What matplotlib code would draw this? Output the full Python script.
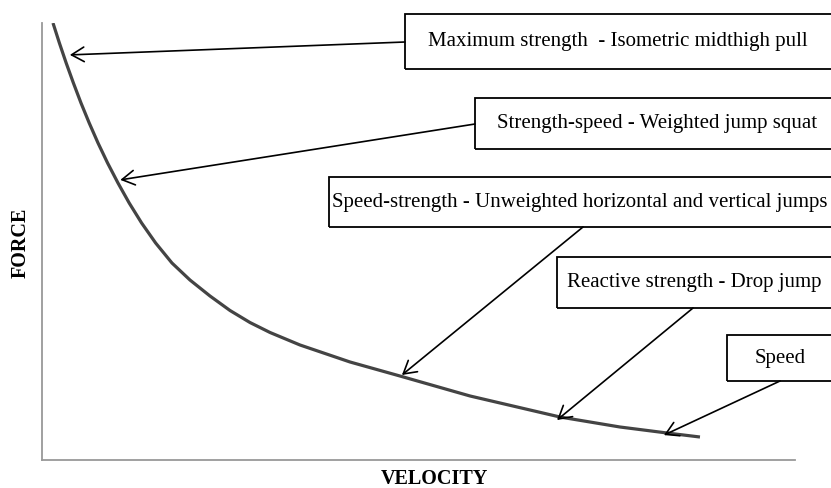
import matplotlib
matplotlib.use('Agg')
import matplotlib.pyplot as plt
from matplotlib.patches import Rectangle

# force-velocity curve (arbitrary 0-100 units)
velocity = [1.46, 2.31, 3.21, 4.17, 5.18, 6.27, 7.44, 8.71, 10.09, 11.58, 13.23,
            15.09, 17.26, 19.65, 22.31, 24.97, 27.62, 30.28, 34.26, 40.90, 47.54,
            56.84, 68.79, 76.76, 83.00, 87.38]
force = [100.0, 95.42, 90.85, 86.27, 81.69, 77.12, 72.54, 67.96, 63.39, 58.81,
         54.23, 49.66, 45.08, 41.19, 37.53, 34.21, 31.46, 29.18, 26.32, 22.43,
         19.22, 14.65, 9.84, 7.55, 6.18, 5.26]

labels = ['Maximum strength  - Isometric midthigh pull',
          'Strength-speed - Weighted jump squat',
          'Speed-strength - Unweighted horizontal and vertical jumps',
          'Reactive strength - Drop jump',
          'Speed']
# where each arrow lands on the curve
tip_v = [3.7, 10.4, 47.8, 68.4, 82.6]
tip_f = [92.7, 64.1, 19.45, 9.15, 5.7]

W, H = 831, 488
fig = plt.figure(figsize=(W / 100, H / 100), dpi=100)
ax = fig.add_axes([42 / W, 28 / H, 753 / W, 437 / H])

ax.plot(velocity, force, color='#444444', lw=2.3, solid_capstyle='butt',
        solid_joinstyle='round')
ax.set_xlim(0, 100)
ax.set_ylim(0, 100)
ax.set_xticks([])
ax.set_yticks([])
for s in ['top', 'right']:
    ax.spines[s].set_visible(False)
for s in ['left', 'bottom']:
    ax.spines[s].set_color('#999999')
    ax.spines[s].set_linewidth(1.3)

serif = 'Liberation Serif'
fig.text(21 / W, 1 - 243 / H, 'FORCE', rotation=90, ha='center', va='center',
         fontsize=14.5, fontweight='bold', family=serif)
fig.text(434 / W, 1 - 479 / H, 'VELOCITY', ha='center', va='center',
         fontsize=14.5, fontweight='bold', family=serif)

# box geometry in pixels from top-left: left, top, bottom, text centre x, arrow start
boxes = [(405, 14, 69, 618, (405, 42)),
         (475, 98, 149, 657, (475, 124)),
         (329, 177, 227, 580, (583, 227)),
         (557, 257, 308, 694, (693, 308)),
         (727, 335, 381, 780, (780, 381))]


def fx(px):
    return px / W


def fy(py):
    return 1 - py / H


for lab, (l, t, b, cx, start), tv, tf in zip(labels, boxes, tip_v, tip_f):
    fig.add_artist(Rectangle((fx(l), fy(b)), fx(W + 20 - l), (b - t) / H,
                             transform=fig.transFigure, fill=False,
                             edgecolor='black', lw=1.3, clip_on=False))
    fig.text(fx(cx), fy((t + b) / 2), lab, ha='center', va='center',
             fontsize=15, family=serif)
    ax.annotate('', xy=(tv, tf), xycoords='data',
                xytext=(fx(start[0]), fy(start[1])), textcoords='figure fraction',
                arrowprops=dict(arrowstyle='->, head_length=0.6, head_width=0.35',
                                mutation_scale=15, color='black', lw=1.2,
                                shrinkA=0, shrinkB=0),
                annotation_clip=False)

fig.savefig('out.png', dpi=100)
